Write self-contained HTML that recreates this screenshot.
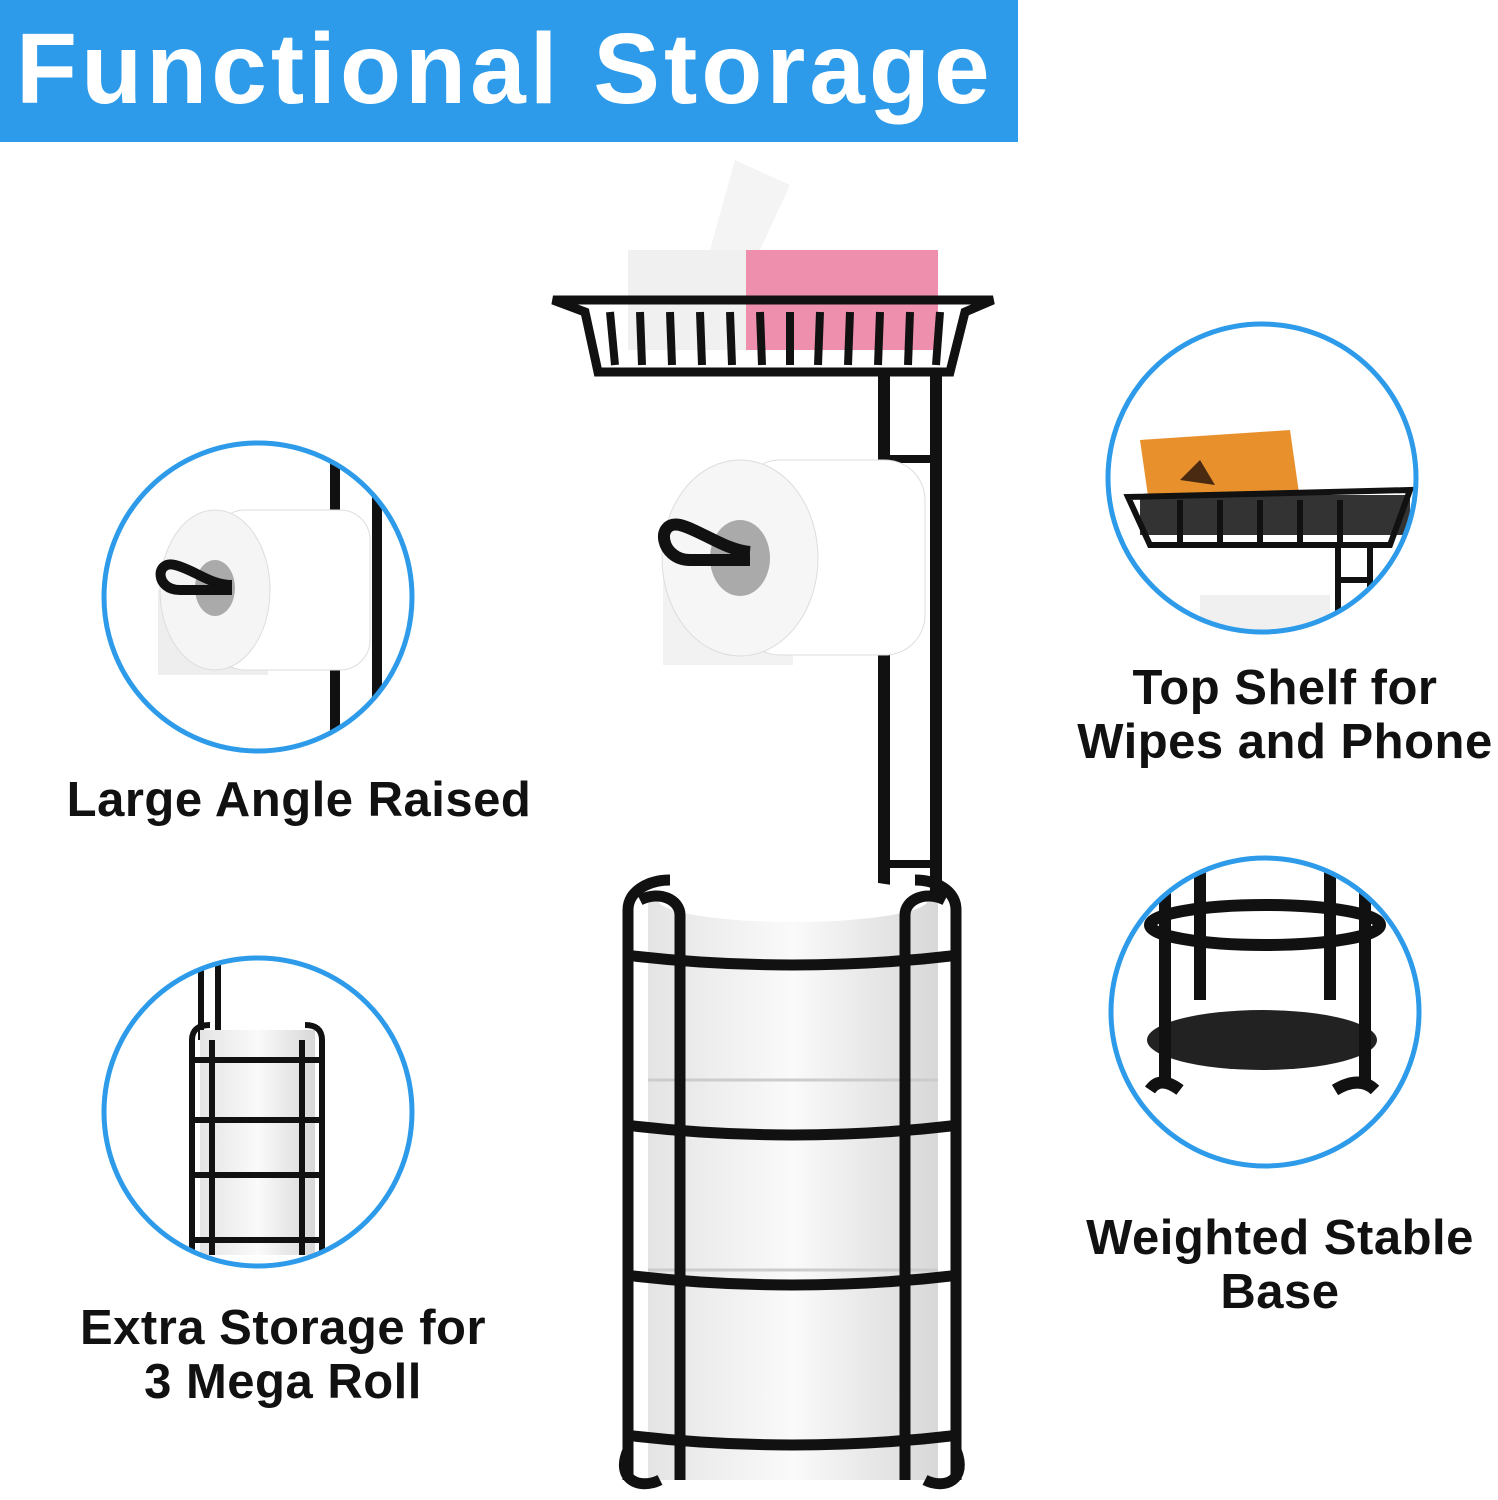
<!DOCTYPE html>
<html><head><meta charset="utf-8"><style>
html,body{margin:0;padding:0;background:#fff;}
body{width:1498px;height:1500px;position:relative;overflow:hidden;font-family:"Liberation Sans",Arial,sans-serif;}
.banner{position:absolute;left:0;top:0;width:1018px;height:142px;background:#2d9be9;}
.title{position:absolute;left:16px;top:14px;font-size:100px;font-weight:bold;color:#fff;letter-spacing:4px;line-height:110px;white-space:nowrap;}
.lbl{position:absolute;font-weight:bold;font-size:49px;letter-spacing:0.5px;color:#111;line-height:54px;text-align:center;white-space:nowrap;}
svg{position:absolute;left:0;top:0;}
</style></head><body>
<div class="banner"></div>
<div class="title">Functional Storage</div>
<svg width="1498" height="1500" viewBox="0 0 1498 1500">
<defs>
<linearGradient id="roll" x1="0" x2="1"><stop offset="0" stop-color="#e4e4e4"/><stop offset="0.5" stop-color="#fafafa"/><stop offset="1" stop-color="#d8d8d8"/></linearGradient>
<clipPath id="c1"><circle cx="258" cy="597" r="153"/></clipPath>
<clipPath id="c2"><circle cx="258" cy="1112" r="153"/></clipPath>
<clipPath id="c3"><circle cx="1262" cy="478" r="153"/></clipPath>
<clipPath id="c4"><circle cx="1265" cy="1012" r="153"/></clipPath>
</defs>
<path d="M710 250 L735 160 L790 185 L760 250 Z" fill="#f4f4f4"/>
<rect x="628" y="250" width="118" height="100" fill="#f0f0f0"/>
<rect x="746" y="250" width="192" height="100" fill="#ef8fae"/>
<path d="M553 300 L993 300 L965 312 L950 372 L598 372 L585 312 Z" fill="none" stroke="#111" stroke-width="9"/>
<g stroke="#111" stroke-width="8">
<line x1="610" y1="312" x2="615" y2="365"/><line x1="640" y1="312" x2="642" y2="365"/><line x1="670" y1="312" x2="672" y2="365"/><line x1="700" y1="312" x2="702" y2="365"/><line x1="730" y1="312" x2="732" y2="365"/><line x1="760" y1="312" x2="762" y2="365"/><line x1="790" y1="312" x2="790" y2="365"/><line x1="820" y1="312" x2="818" y2="365"/><line x1="850" y1="312" x2="848" y2="365"/><line x1="880" y1="312" x2="878" y2="365"/><line x1="910" y1="312" x2="908" y2="365"/><line x1="940" y1="312" x2="936" y2="365"/>
</g>
<rect x="878" y="375" width="12" height="520" fill="#111"/>
<rect x="930" y="375" width="12" height="520" fill="#111"/>
<rect x="885" y="455" width="50" height="8" fill="#111"/>
<rect x="885" y="860" width="50" height="8" fill="#111"/>
<rect x="663" y="560" width="130" height="105" fill="#f2f2f2"/>
<rect x="740" y="460" width="185" height="195" rx="40" fill="#fff" stroke="#ddd"/>
<ellipse cx="740" cy="558" rx="78" ry="98" fill="#f6f6f6" stroke="#ddd"/>
<ellipse cx="740" cy="558" rx="30" ry="38" fill="#aaa"/>
<path d="M750 560 L690 560 C660 560 655 520 680 525 C700 530 725 550 750 552" fill="none" stroke="#111" stroke-width="12"/>
<rect x="648" y="895" width="290" height="585" fill="url(#roll)"/>
<ellipse cx="793" cy="900" rx="135" ry="22" fill="#fff"/>
<line x1="648" y1="1080" x2="938" y2="1080" stroke="#ccc" stroke-width="3"/>
<line x1="648" y1="1270" x2="938" y2="1270" stroke="#ccc" stroke-width="3"/>
<g fill="none" stroke="#111" stroke-width="11">
<path d="M628 1480 L628 910 C628 890 650 880 670 880"/>
<path d="M956 1480 L956 910 C956 890 935 880 915 880"/>
<path d="M680 1480 L680 915 C680 900 660 890 640 900"/>
<path d="M905 1480 L905 915 C905 900 925 890 945 900"/>
<path d="M625 955 Q793 975 960 955"/>
<path d="M625 1125 Q793 1145 960 1125"/>
<path d="M625 1275 Q793 1295 960 1275"/>
<path d="M625 1435 Q793 1455 960 1435"/>
<path d="M628 1450 C615 1480 640 1490 660 1480"/>
<path d="M956 1450 C968 1480 945 1490 925 1480"/>
</g>
<g clip-path="url(#c1)">
<rect x="330" y="440" width="10" height="320" fill="#111"/><rect x="372" y="440" width="10" height="320" fill="#111"/>
<rect x="158" y="590" width="110" height="85" fill="#eee"/>
<rect x="215" y="510" width="155" height="160" rx="30" fill="#fff" stroke="#ddd"/>
<ellipse cx="215" cy="590" rx="55" ry="80" fill="#f5f5f5" stroke="#ddd"/>
<ellipse cx="215" cy="588" rx="20" ry="28" fill="#aaa"/>
<path d="M232 590 L180 590 C155 590 155 560 175 565 C195 570 210 585 232 585" fill="none" stroke="#111" stroke-width="10"/>
</g>
<circle cx="258" cy="597" r="154" fill="none" stroke="#2d9be9" stroke-width="5"/>
<g clip-path="url(#c2)">
<rect x="198" y="960" width="6" height="80" fill="#111"/><rect x="215" y="960" width="6" height="80" fill="#111"/>
<rect x="200" y="1030" width="115" height="225" fill="url(#roll)"/>
<g fill="none" stroke="#111" stroke-width="6">
<path d="M192 1255 L192 1040 Q192 1025 210 1025"/><path d="M322 1255 L322 1040 Q322 1025 305 1025"/>
<path d="M212 1255 L212 1040"/><path d="M302 1255 L302 1040"/>
<path d="M190 1060 L325 1060"/><path d="M190 1120 L325 1120"/><path d="M190 1175 L325 1175"/><path d="M190 1240 L325 1240"/>
</g>
</g>
<circle cx="258" cy="1112" r="154" fill="none" stroke="#2d9be9" stroke-width="5"/>
<g clip-path="url(#c3)">
<path d="M1140 440 L1290 430 L1300 500 L1150 510 Z" fill="#e8902c"/>
<path d="M1180 480 L1200 460 L1215 485 Z" fill="#4a2a10"/>
<rect x="1140" y="495" width="270" height="40" fill="#333"/>
<g fill="none" stroke="#111" stroke-width="6">
<path d="M1128 497 L1410 490 L1390 545 L1150 545 Z"/>
<line x1="1180" y1="500" x2="1180" y2="545"/><line x1="1220" y1="500" x2="1220" y2="545"/><line x1="1260" y1="500" x2="1260" y2="545"/><line x1="1300" y1="500" x2="1300" y2="545"/><line x1="1340" y1="500" x2="1340" y2="545"/>
<line x1="1338" y1="545" x2="1338" y2="640"/><line x1="1370" y1="545" x2="1370" y2="640"/><line x1="1338" y1="580" x2="1370" y2="580"/>
</g>
<rect x="1200" y="595" width="130" height="60" fill="#f0f0f0"/>
</g>
<circle cx="1262" cy="478" r="154" fill="none" stroke="#2d9be9" stroke-width="5"/>
<g clip-path="url(#c4)">
<ellipse cx="1262" cy="1040" rx="115" ry="30" fill="#222"/>
<g fill="none" stroke="#111" stroke-width="12">
<line x1="1165" y1="850" x2="1165" y2="1080"/><line x1="1200" y1="850" x2="1200" y2="1000"/>
<line x1="1330" y1="850" x2="1330" y2="1000"/><line x1="1365" y1="850" x2="1365" y2="1080"/>
<ellipse cx="1265" cy="925" rx="115" ry="20"/>
<path d="M1150 1090 Q1160 1075 1180 1090"/><path d="M1335 1090 Q1360 1075 1375 1090"/>
</g>
</g>
<circle cx="1265" cy="1012" r="154" fill="none" stroke="#2d9be9" stroke-width="5"/>
</svg>
<div class="lbl" style="left:49px;top:773px;width:500px;">Large Angle Raised</div>
<div class="lbl" style="left:1060px;top:661px;width:450px;">Top Shelf for<br>Wipes and Phone</div>
<div class="lbl" style="left:1060px;top:1211px;width:440px;">Weighted Stable<br>Base</div>
<div class="lbl" style="left:58px;top:1301px;width:450px;">Extra Storage for<br>3 Mega Roll</div>
</body></html>
